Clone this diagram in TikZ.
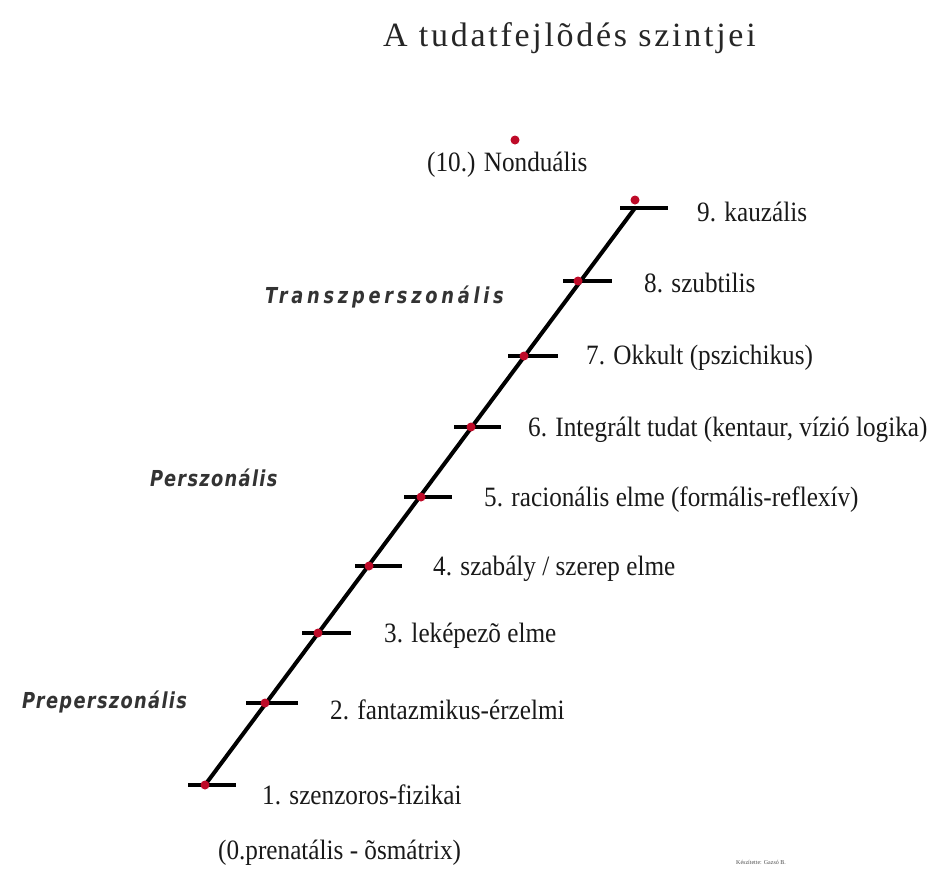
\documentclass[tikz,border=0pt]{standalone}
\usepackage{fontspec}
\setmainfont{Liberation Serif}
\newfontfamily\lblfont[FakeStretch=0.9]{Liberation Serif}
\newfontfamily\titlefont[LetterSpace=8]{Liberation Serif}
\newfontfamily\levelfont[LetterSpace=6,FakeStretch=0.9]{DejaVu Sans Condensed Bold Oblique}
\newfontfamily\levelwidefont[LetterSpace=17,FakeStretch=0.9]{DejaVu Sans Condensed Bold Oblique}
\definecolor{dotred}{RGB}{190,10,40}
\tikzset{
  ladder/.style={line width=4pt, black},
  tick/.style={line width=4pt, black},
  rdot/.style={circle, fill=dotred, inner sep=0pt, minimum size=9pt},
  lbl/.style={anchor=west, inner sep=0pt, font=\lblfont\fontsize{28}{28}\selectfont, text=black!90},
  lvl/.style={anchor=west, inner sep=0pt, font=\levelfont\fontsize{22}{22}\selectfont, text=black!80},
}
\begin{document}
\begin{tikzpicture}[x=1pt,y=-1pt]
\useasboundingbox (0,0) rectangle (940,876);
% points on the ladder
\coordinate (p1) at (205,785);
\coordinate (p2) at (265,703);
\coordinate (p3) at (318,633);
\coordinate (p4) at (369,566);
\coordinate (p5) at (421,497);
\coordinate (p6) at (471,427);
\coordinate (p7) at (524,356);
\coordinate (p8) at (578,281);
\coordinate (p9) at (635,208);
% tick ends
\coordinate (a1) at (188,785); \coordinate (b1) at (236,785);
\coordinate (a2) at (246,703); \coordinate (b2) at (298,703);
\coordinate (a3) at (302,633); \coordinate (b3) at (351,633);
\coordinate (a4) at (355,566); \coordinate (b4) at (402,566);
\coordinate (a5) at (404,497); \coordinate (b5) at (452,497);
\coordinate (a6) at (454,427); \coordinate (b6) at (501,427);
\coordinate (a7) at (508,356); \coordinate (b7) at (558,356);
\coordinate (a8) at (563,281); \coordinate (b8) at (612,281);
\coordinate (a9) at (620,208); \coordinate (b9) at (668,208);
% ladder
\draw[ladder] (p1) -- (p9);
\foreach \i in {1,...,9} {\draw[tick] (a\i) -- (b\i);}
\foreach \i in {1,...,8} {\node[rdot] (d\i) at (p\i) {};}
\node[rdot] (d9) at (635,200) {};
\node[rdot] (d10) at (515,140) {};
% labels
\node[lbl] (l1) at (262,795) {1. szenzoros-fizikai};
\node[lbl] (l2) at (330,710) {2. fantazmikus-érzelmi};
\node[lbl] (l3) at (384,636) {3. leképezõ elme};
\node[lbl] (l4) at (433,569) {4. szabály / szerep elme};
\node[lbl] (l5) at (484,500) {5. racionális elme (formális-reflexív)};
\node[lbl] (l6) at (528,430) {6. Integrált tudat (kentaur, vízió logika)};
\node[lbl] (l7) at (586,358) {7. Okkult (pszichikus)};
\node[lbl] (l8) at (644,283) {8. szubtilis};
\node[lbl] (l9) at (697,212) {9. kauzális};
\node[lbl] (l10) at (427,165) {(10.) Nonduális};
\node[lbl] (l0) at (218,853) {(0.prenatális - õsmátrix)};
% level names
\node[lvl, font=\levelwidefont\fontsize{22}{22}\selectfont] (t1) at (265,297) {Transzperszonális};
\node[lvl] (t2) at (150,478) {Perszonális};
\node[lvl] (t3) at (22,702) {Preperszonális};
% title
\node[font=\titlefont\fontsize{34}{34}\selectfont, text=black!85, anchor=west, inner sep=0pt] (title) at (383,38) {A tudatfejlõdés szintjei};
% credit
\node[font=\fontsize{6}{6}\selectfont, text=black!70, anchor=west, inner sep=0pt] (credit) at (736,862) {Készítette: Gazsó B.};
\end{tikzpicture}
\end{document}
